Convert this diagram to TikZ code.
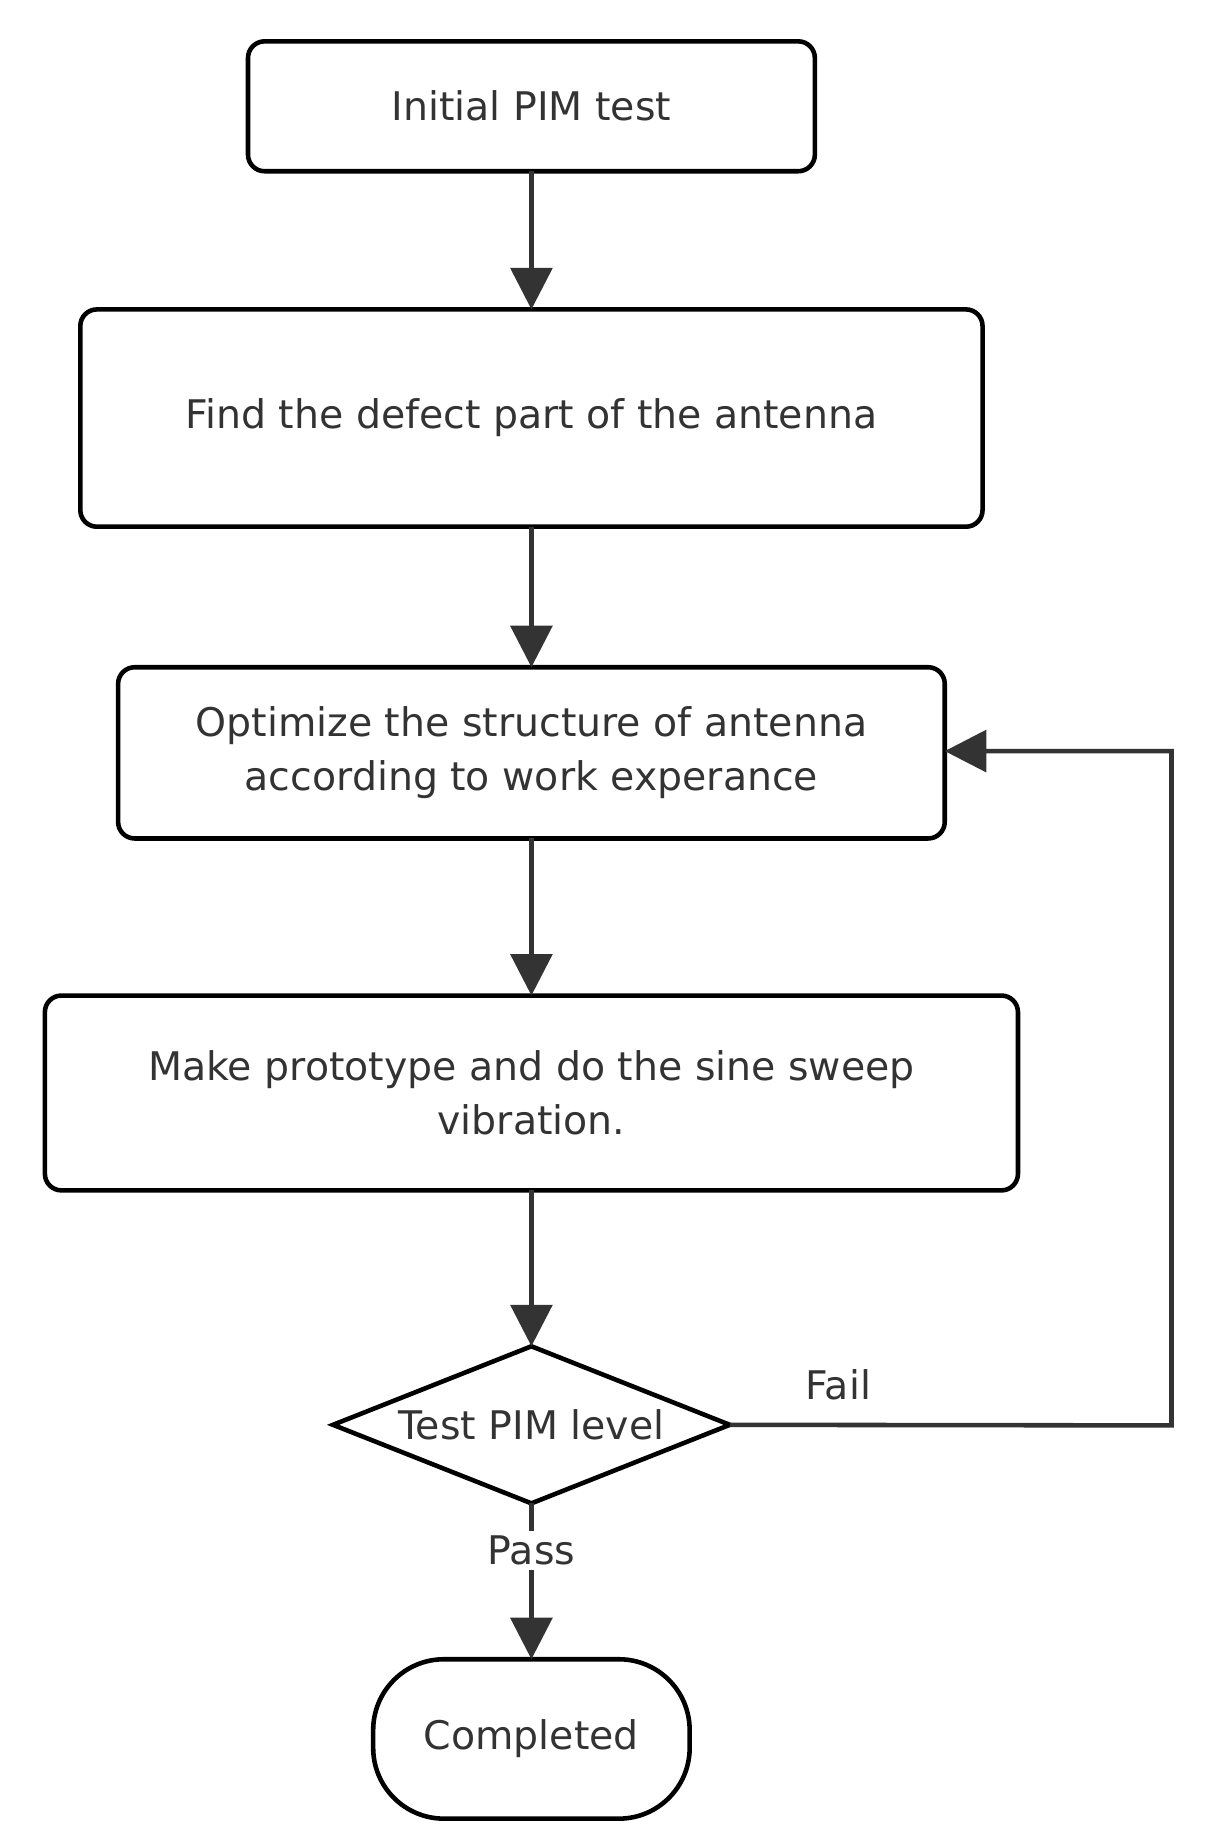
\documentclass[tikz,border=0pt]{standalone}
\usepackage{fontspec}
\setmainfont{DejaVu Sans}
\usetikzlibrary{positioning,shapes.geometric,arrows.meta}

\begin{document}
\begin{tikzpicture}[task/.style={draw, rounded corners=4pt, line width=1.1pt, align=center, inner sep=0pt, outer sep=0pt, font=\fontsize{9.5}{13}\selectfont, text=black!80},
    check/.style={draw, diamond, line width=1.1pt, aspect=2.5, inner sep=0pt, outer sep=0pt, minimum width=3.36cm, minimum height=1.33cm, font=\fontsize{9.5}{12}\selectfont, text=black!80},
    stop/.style={draw, rounded corners=0.6cm, line width=1.1pt, inner sep=0pt, outer sep=0pt, minimum width=2.68cm, minimum height=1.35cm, font=\fontsize{9.5}{12}\selectfont, text=black!80},
    tag/.style={font=\fontsize{9.5}{12}\selectfont, text=black!80},
    flow/.style={-{Triangle[length=10pt,width=10pt]}, line width=1.1pt, draw=black!80}]
    \useasboundingbox (0,0) rectangle (10.24,-15.53);
    \node[task, minimum width=4.8cm, minimum height=1.1cm] (init) at (4.5,-0.9) {Initial PIM test};
    \node[task, minimum width=7.64cm, minimum height=1.84cm, below=1.17cm of init] (find) {Find the defect part of the antenna};
    \node[task, minimum width=7.0cm, minimum height=1.45cm, below=1.19cm of find] (opt) {Optimize the structure of antenna\\according to work experance};
    \node[task, minimum width=8.24cm, minimum height=1.65cm, below=1.33cm of opt] (make) {Make prototype and do the sine sweep\\vibration.};
    \node[check, below=1.32cm of make] (test) {Test PIM level};
    \node[stop, below=1.32cm of test] (done) {Completed};

    \coordinate (loop) at (9.92,-12.07);
    \coordinate (loopup) at (9.92,-6.36);
    \node[tag] (fail) at (7.1,-11.73) {Fail};
    \node[tag, fill=white, inner sep=1pt] (pass) at (4.5,-13.13) {Pass};

    \draw[flow] (init) -- (find);
    \draw[flow] (find) -- (opt);
    \draw[flow] (opt) -- (make);
    \draw[flow] (make) -- (test);
    \draw[line width=1.1pt, draw=black!80] (test) -- (pass);
    \draw[flow] (pass) -- (done);
    \draw[flow] (test.east) -- (loop) -- (loopup) -- (opt.east |- loopup);
\end{tikzpicture}
\end{document}
